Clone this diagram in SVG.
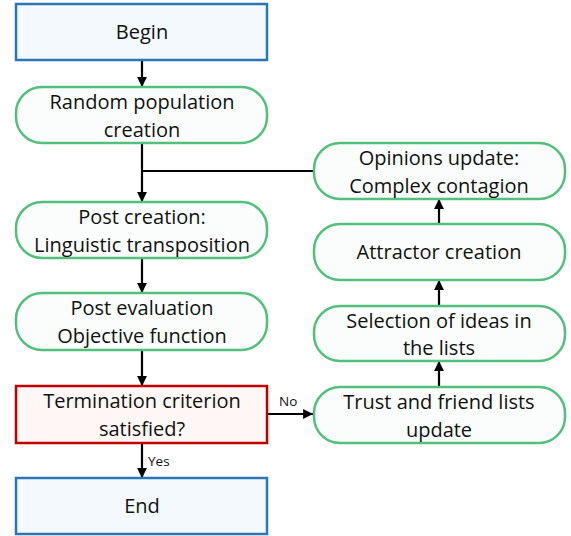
<svg xmlns="http://www.w3.org/2000/svg" width="571" height="536" viewBox="0 0 571 536">
<defs>
<marker id="ah" viewBox="0 0 10 10" refX="10" refY="5" markerWidth="4.5" markerHeight="4.5" orient="auto" markerUnits="strokeWidth">
<path d="M0,0 L10,5 L0,10 z" fill="#000"/>
</marker>
<style>
.t{font-family:"Open Sans","Liberation Sans",sans-serif;font-size:20px;fill:#111;text-anchor:middle}
.s{font-family:"Open Sans","Liberation Sans",sans-serif;font-size:13.5px;fill:#111}
.blue{fill:#F3F9FD;stroke:#2E75B6;stroke-width:2.5}
.green{fill:#FAFDFB;stroke:#52BF7C;stroke-width:2.5}
.red{fill:#FEF7F5;stroke:#C00000;stroke-width:2.5}
.c{fill:none;stroke:#000;stroke-width:2.2}
</style>
</defs>
<rect width="571" height="536" fill="#fff"/>
<g id="connectors">
<line class="c" x1="142" y1="60" x2="142" y2="87" marker-end="url(#ah)"/>
<line class="c" x1="142" y1="143" x2="142" y2="202" marker-end="url(#ah)"/>
<line class="c" x1="142" y1="171" x2="314" y2="171"/>
<line class="c" x1="142" y1="258" x2="142" y2="293" marker-end="url(#ah)"/>
<line class="c" x1="142" y1="350" x2="142" y2="386" marker-end="url(#ah)"/>
<line class="c" x1="142" y1="443" x2="142" y2="478" marker-end="url(#ah)"/>
<line class="c" x1="267" y1="414" x2="313" y2="414" marker-end="url(#ah)"/>
<line class="c" x1="439" y1="387" x2="439" y2="361" marker-end="url(#ah)"/>
<line class="c" x1="439" y1="306" x2="439" y2="280" marker-end="url(#ah)"/>
<line class="c" x1="439" y1="224" x2="439" y2="199" marker-end="url(#ah)"/>
<text class="s" x="148" y="466">Yes</text>
<text class="s" x="279" y="406">No</text>
</g>
<g id="begin">
<rect class="blue" x="16" y="4" width="251" height="56"/>
<text class="t" x="142" y="39">Begin</text>
</g>
<g id="random">
<rect class="green" x="16" y="87" width="251" height="56" rx="26"/>
<text class="t" x="142" y="109">Random population</text>
<text class="t" x="142" y="137">creation</text>
</g>
<g id="postcreation">
<rect class="green" x="16" y="202" width="251" height="56" rx="26"/>
<text class="t" x="142" y="224">Post creation:</text>
<text class="t" x="142" y="252">Linguistic transposition</text>
</g>
<g id="posteval">
<rect class="green" x="16" y="293" width="251" height="57" rx="26"/>
<text class="t" x="142" y="315">Post evaluation</text>
<text class="t" x="142" y="343">Objective function</text>
</g>
<g id="termination">
<rect class="red" x="16" y="386" width="251" height="57"/>
<text class="t" x="142" y="408">Termination criterion</text>
<text class="t" x="142" y="436">satisfied?</text>
</g>
<g id="end">
<rect class="blue" x="16" y="478" width="251" height="56"/>
<text class="t" x="142" y="513">End</text>
</g>
<g id="opinions">
<rect class="green" x="314" y="143" width="251" height="56" rx="26"/>
<text class="t" x="439" y="165">Opinions update:</text>
<text class="t" x="439" y="193">Complex contagion</text>
</g>
<g id="attractor">
<rect class="green" x="314" y="224" width="251" height="56" rx="26"/>
<text class="t" x="439" y="259">Attractor creation</text>
</g>
<g id="selection">
<rect class="green" x="314" y="306" width="251" height="55" rx="26"/>
<text class="t" x="439" y="328">Selection of ideas in</text>
<text class="t" x="439" y="355">the lists</text>
</g>
<g id="trust">
<rect class="green" x="314" y="387" width="251" height="56" rx="26"/>
<text class="t" x="439" y="409">Trust and friend lists</text>
<text class="t" x="439" y="437">update</text>
</g>
</svg>
